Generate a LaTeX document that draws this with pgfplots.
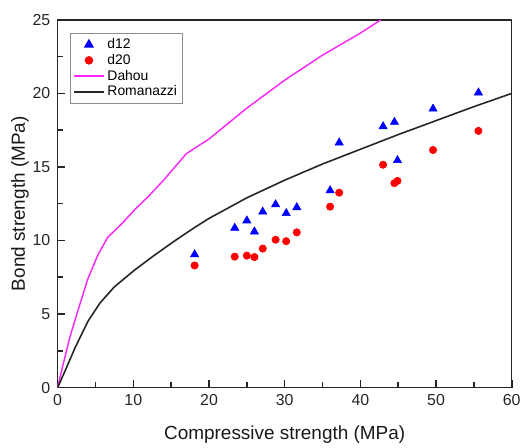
\documentclass[border=0pt]{standalone}
\usepackage{pgfplots}
\pgfplotsset{compat=1.18}
\usepackage{fontspec}
\setmainfont{Liberation Sans}
\definecolor{dahou}{RGB}{250,40,250}
\pgfplotsset{
  lineleg/.style={legend image code/.code={\draw[##1] (0cm,0cm) -- (0.8cm,0cm);}},
  markleg/.style={legend image code/.code={\path (0cm,0cm) (0.8cm,0cm);
    \draw[##1] plot coordinates {(0.4cm,0cm)};}},
}

\begin{document}
\begin{tikzpicture}
\begin{axis}[
    scale only axis,
    width=342.75pt, height=277.5pt,
    at={(0,0)}, anchor=south west,
    xmin=0, xmax=60, ymin=0, ymax=25,
    xtick={0,10,...,60}, ytick={0,5,...,25},
    minor xtick={5,15,...,55}, minor ytick={2.5,7.5,...,22.5},
    tick align=inside,
    tick pos=left,
    major tick length=5.5pt, minor tick length=4pt,
    tick style={black!85, line width=1.2pt},
    axis line style={line width=1.1pt, color=black!85},
    /pgf/number format/assume math mode=true,
    ticklabel style={font=\fontsize{12}{14}\selectfont, color=black!85},
    xticklabel style={yshift=-2pt},
    yticklabel style={xshift=-2pt},
    xlabel={Compressive strength (MPa)},
    ylabel={Bond strength (MPa)},
    label style={font=\fontsize{14.3}{16}\selectfont, color=black!90},
    xlabel style={yshift=-8pt},
    ylabel style={yshift=-4pt},
    legend style={at={(0.027,0.965)}, anchor=north west, draw=black!45,
      line width=0.8pt, font=\fontsize{10.5}{12}\selectfont,
      row sep=-1.2pt, inner sep=2pt, cells={anchor=west}},
    legend cell align=left,
]
\addplot[only marks, mark=triangle*, mark size=3.6pt, color=blue, markleg] coordinates {
  (18.1,9.05) (23.4,10.85) (25.0,11.35) (26.0,10.6) (27.1,11.95)
  (28.8,12.45) (30.2,11.85) (31.6,12.25) (36.0,13.4) (37.2,16.65)
  (43.0,17.75) (44.5,18.05) (44.9,15.45) (49.6,18.95) (55.6,20.05)
};
\addlegendentry{d12}
\addplot[only marks, mark=*, mark size=2.8pt, color=red, markleg] coordinates {
  (18.1,8.3) (23.4,8.9) (25.0,8.97) (26.0,8.87) (27.1,9.45)
  (28.8,10.05) (30.2,9.95) (31.6,10.55) (36.0,12.3) (37.2,13.25)
  (43.0,15.15) (44.5,13.9) (44.9,14.05) (49.6,16.15) (55.6,17.45)
};
\addlegendentry{d20}
\addplot[color=dahou, line width=1.1pt, lineleg] coordinates {
  (0,0) (0.5,1.1) (1.6,3.4) (2.9,5.6) (4.0,7.4) (5.3,9.0) (6.6,10.2)
  (8.4,11.1) (10.2,12.1) (12,13.0) (14,14.1) (17,15.9) (20,16.9)
  (25,19.0) (30,20.9) (35,22.6) (40,24.1) (42.7,25.0)
};
\addlegendentry{Dahou}
\addplot[color=black!85, line width=1.2pt, lineleg] coordinates {
  (0,0) (1,1.15) (2.3,2.7) (4,4.5) (5.6,5.75) (7.5,6.85) (10.2,8.0)
  (12.8,9.0) (15.4,9.95) (18,10.85) (20,11.5) (25,12.9) (30,14.1)
  (35,15.2) (40,16.2) (45,17.2) (50,18.15) (55,19.1) (60,20.0)
};
\addlegendentry{Romanazzi}
\end{axis}
\path (-43.5pt,-40.5pt) rectangle (350.25pt,292.5pt);
\end{tikzpicture}
\end{document}
